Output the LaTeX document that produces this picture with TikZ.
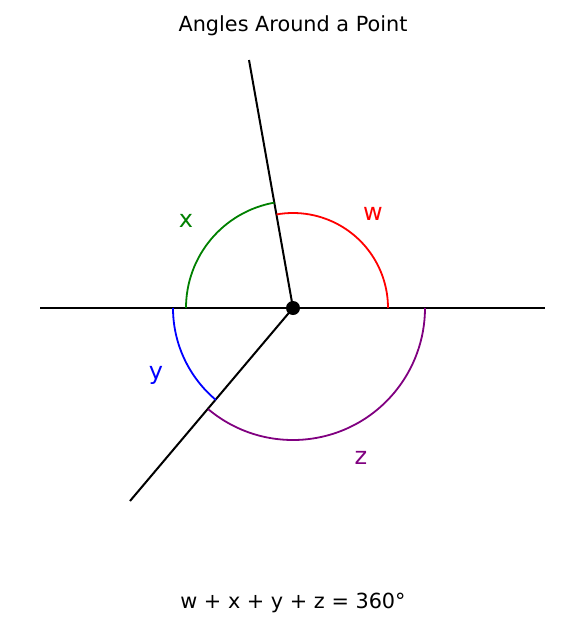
\documentclass[tikz,border=0pt]{standalone}
\usepackage{fontspec}
\setmainfont{DejaVu Sans}
\usetikzlibrary{calc}
\begin{document}
\begin{tikzpicture}[x=1pt,y=-1pt,
  ray/.style={line width=2pt,black},
  arcline/.style={line width=1.8pt},
  lbl/.style={font=\fontsize{24}{26}\selectfont,inner sep=0pt},
  ttl/.style={font=\fontsize{20.8}{24}\selectfont,inner sep=0pt}]
\useasboundingbox (0,0) rectangle (585,627);
\definecolor{mgreen}{RGB}{0,128,0}
\definecolor{mpurple}{RGB}{128,0,128}
\coordinate (O) at (293,308);
\coordinate (L) at (40,308);
\coordinate (R) at (545,308);
\coordinate (U) at (249,60);
\coordinate (D) at (130,501);
\draw[ray] (L) -- (R);
\draw[ray] (O) -- (U);
\draw[ray] (O) -- (D);
\draw[arcline,red] ($(O)+(0:95)$) arc[start angle=0,end angle=-100,radius=95];
\draw[arcline,mgreen] ($(O)+(-100:107)$) arc[start angle=-100,end angle=-180,radius=107];
\draw[arcline,blue] ($(O)+(-180:120)$) arc[start angle=-180,end angle=-230,radius=120];
\draw[arcline,mpurple] ($(O)+(-230:132)$) arc[start angle=-230,end angle=-360,radius=132];
\fill[black] (O) circle[radius=7];
\node[lbl,red] (w) at (373,214) {w};
\node[lbl,mgreen] (x) at (186,221) {x};
\node[lbl,blue] (y) at (156,375) {y};
\node[lbl,mpurple] (z) at (361,458) {z};
\node[ttl] (title) at (293,26) {Angles Around a Point};
\node[ttl] (eq) at (293,603) {w + x + y + z = 360°};
\end{tikzpicture}
\end{document}
